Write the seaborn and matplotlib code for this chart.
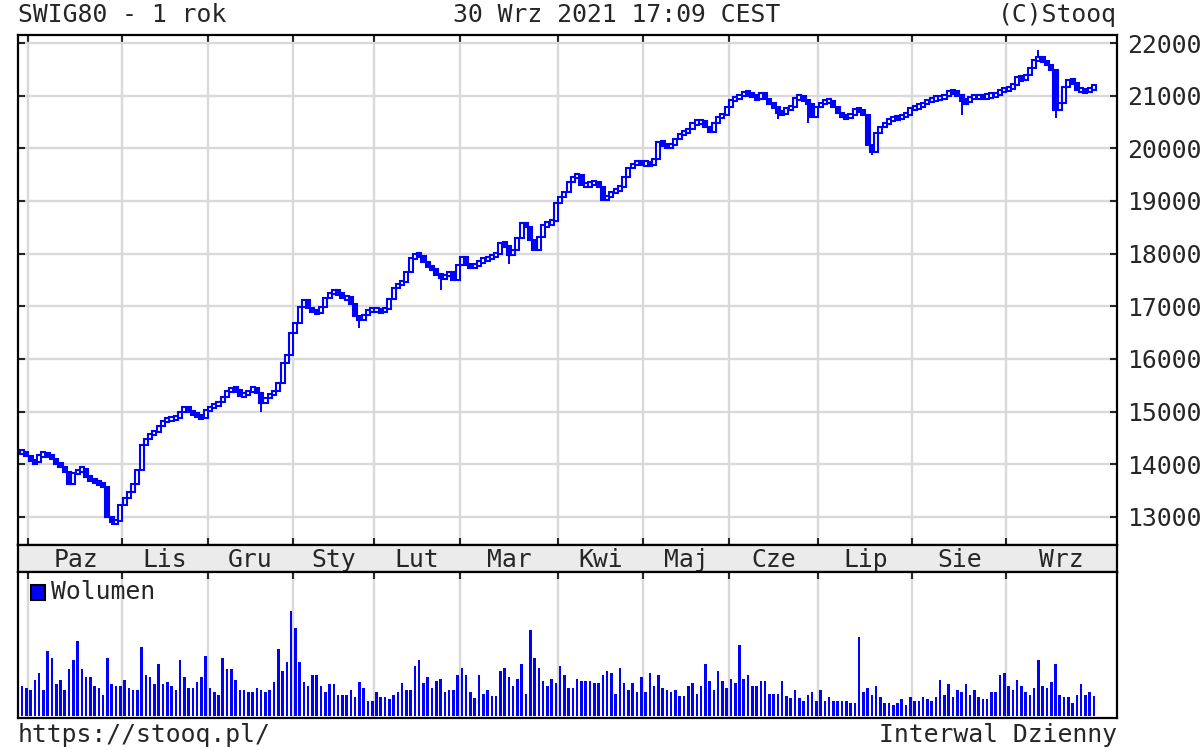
import numpy as np
import pandas as pd
import seaborn as sns
import matplotlib.pyplot as plt
from matplotlib.patches import Rectangle

# SWIG80, notowania dzienne 30.09.2020 - 30.09.2021 (kursy zamkniecia)
closes = [
    # paz (z 30 wrz)
    14230, 14150, 14060, 14040, 14180, 14190, 14170, 14100, 14010, 13950, 13850, 13620,
    13840, 13880, 13920, 13760, 13700, 13660, 13640, 13560, 13000, 12900, 12920,
    # lis
    13230, 13360, 13480, 13620, 13890, 14370, 14480, 14570, 14620, 14720, 14830, 14850,
    14880, 14880, 14990, 15090, 15000, 14950, 14920, 14880,
    # gru
    15030, 15080, 15120, 15185, 15280, 15390, 15430, 15410, 15300, 15320, 15400, 15440,
    15355, 15170, 15260, 15320, 15400, 15550, 15925, 16075,
    # sty
    16495, 16685, 16990, 17120, 16970, 16890, 16880, 16990, 17150, 17260, 17275, 17250,
    17160, 17170, 17050, 16820, 16740, 16835, 16930,
    # lut
    16930, 16930, 16900, 16950, 17140, 17350, 17420, 17460, 17650, 17920, 17975, 17960,
    17850, 17750, 17700, 17600, 17540, 17570, 17650, 17500,
    # mar
    17785, 17940, 17785, 17740, 17790, 17840, 17900, 17910, 17960, 17990, 18200, 18150,
    17975, 18070, 18300, 18580, 18500, 18260, 18070, 18320, 18545, 18560, 18620,
    # kwi
    18960, 19080, 19170, 19360, 19455, 19495, 19305, 19310, 19320, 19360, 19265, 19020,
    19080, 19170, 19210, 19265, 19455, 19630, 19685, 19745,
    # maj
    19700, 19720, 19685, 19800, 20120, 20065, 20010, 20065, 20180, 20270, 20300, 20360,
    20480, 20500, 20510, 20400, 20310, 20480, 20600, 20640,
    # cze
    20785, 20920, 20960, 21000, 21070, 21015, 21000, 20930, 21050, 20940, 20840, 20790,
    20670, 20660, 20760, 20785, 20955, 20975, 20920, 20840, 20600,
    # lip
    20785, 20860, 20900, 20900, 20785, 20670, 20600, 20590, 20640, 20740, 20730, 20640,
    20060, 19930, 20300, 20400, 20480, 20540, 20580, 20560, 20635, 20640,
    # sie
    20765, 20780, 20810, 20850, 20900, 20940, 20955, 20960, 20990, 21080, 21070, 21010,
    20900, 20880, 20970, 20975, 20980, 20975, 20990, 21015, 21020, 21110,
    # wrz
    21110, 21145, 21200, 21355, 21300, 21395, 21525, 21680, 21715, 21660, 21590, 21490,
    20730, 20860, 21165, 21300, 21240, 21110, 21110, 21080, 21145, 21165,
]

# wolumen (jednostki umowne, skala jak na wykresie)
volumes = [
    30, 28, 26, 36, 43, 26, 65, 58, 32, 36, 26, 47, 56, 75, 47, 39, 39, 30, 28, 21,
    58, 32, 30, 30, 36, 28, 26, 26, 69, 41, 39, 32, 52, 32, 34, 30, 26, 56, 39, 28,
    28, 34, 39, 60, 28, 24, 21, 58, 47, 47, 36, 26, 26, 24, 24, 28, 26, 24, 26, 34,
    67, 45, 54, 105, 88, 54, 34, 30, 41, 41, 30, 24, 32, 32, 21, 21, 21, 26, 19, 34,
    28, 15, 15, 24, 19, 19, 17, 21,
    24, 33, 26, 26, 50, 56, 33, 39, 28, 35, 37, 24, 26, 26, 41, 48, 41, 24, 18, 41,
    22, 26, 20, 20, 45, 48, 39, 30, 37, 52, 22, 86, 58, 48, 35, 30, 37, 33, 50, 41,
    28, 28, 37, 35, 35, 35, 33, 33, 41, 45, 43, 22, 48, 33, 26, 33, 24, 39, 24, 43,
    30, 41, 28, 26, 24, 26, 20, 20, 30, 33, 22, 30, 52, 35, 26, 45, 35, 28, 37, 33,
    71, 37, 41, 30, 30, 35, 35, 22, 22, 22, 35, 20, 18, 26, 18,
    15, 21, 24, 15, 26, 15, 19, 15, 15, 15, 15, 13, 13, 79, 24, 28, 21, 30, 19, 13,
    13, 11, 13, 17, 11, 19, 15, 15, 19, 17, 15, 19, 36, 21, 32, 19, 26, 24, 32, 21,
    26, 19, 17, 17, 24, 24, 41, 43, 30, 26, 36, 30, 24, 21, 28, 56, 30, 28, 34, 52,
    21, 19, 19, 13, 21, 32, 21, 24, 20,
]

# dlugie cienie swiec (nr sesji -> wartosc)
low_wicks = {21: 12850, 56: 15000, 79: 16590, 98: 17310, 114: 17800,
             177: 20550, 184: 20480, 199: 19870, 220: 20640, 242: 20580}
high_wicks = {238: 21870}

holidays = ['2020-11-11', '2020-12-24', '2020-12-25', '2020-12-31', '2021-01-01',
            '2021-01-06', '2021-04-02', '2021-04-05', '2021-05-03', '2021-06-03']
month_labels = ['Paz', 'Lis', 'Gru', 'Sty', 'Lut', 'Mar', 'Kwi', 'Maj', 'Cze', 'Lip', 'Sie', 'Wrz']
price_ticks = [13000, 14000, 15000, 16000, 17000, 18000, 19000, 20000, 21000, 22000]

dates = pd.bdate_range('2020-09-30', '2021-09-30')
dates = dates[~dates.isin(pd.to_datetime(holidays))]
assert len(dates) == len(closes) == len(volumes), (len(dates), len(closes), len(volumes))

df = pd.DataFrame({'date': dates, 'close': closes, 'volume': volumes})
df['day'] = np.arange(len(df))
df['open'] = df['close'].shift(1).fillna(df['close'])
df['high'] = df[['open', 'close']].max(axis=1)
df['low'] = df[['open', 'close']].min(axis=1)
for k, v in low_wicks.items():
    df.loc[k, 'low'] = v
for k, v in high_wicks.items():
    df.loc[k, 'high'] = v

# granice miesiecy
starts = df.groupby(df['date'].dt.to_period('M'))['day'].min().values[1:]
bounds = starts + 0.5
xmin, xmax = -0.95, 256.4
edges = list(bounds) + [xmax]
centers = [(edges[i] + edges[i + 1]) / 2 for i in range(len(bounds))]

sns.set_style('white')
plt.rcParams['font.family'] = ['DejaVu Sans Mono']
FS = 17.8
BLUE = '#0000ff'
GRID = '#d9d9d9'
MIN_BODY = 80  # zeby male swiece byly widoczne

fig = plt.figure(figsize=(12, 7.5), dpi=100)
L, W = 18 / 1200, 1099 / 1200
ax = fig.add_axes([L, 1 - 545 / 750, W, 510 / 750])
axm = fig.add_axes([L, 1 - 572 / 750, W, 27 / 750])
axv = fig.add_axes([L, 1 - 718 / 750, W, 146 / 750])

# swiece
up = df['close'] >= df['open']
ax.vlines(df['day'], df['low'], df['high'], color=BLUE, lw=1.4, zorder=2)
d = df[up]
h = np.maximum(d['close'] - d['open'], MIN_BODY)
ax.bar(d['day'], h, bottom=(d['open'] + d['close']) / 2 - h / 2, width=0.95,
       facecolor='white', edgecolor=BLUE, linewidth=1.5, zorder=3)
d = df[~up]
h = np.maximum(d['open'] - d['close'], MIN_BODY)
ax.bar(d['day'], h, bottom=(d['open'] + d['close']) / 2 - h / 2, width=0.95,
       facecolor=BLUE, edgecolor=BLUE, linewidth=1.5, zorder=4)

ax.set_xlim(xmin, xmax)
ax.set_ylim(12468, 22152)
ax.set_yticks(price_ticks)
ax.set_xticks(bounds)
ax.grid(True, color=GRID, lw=1.7, zorder=0)
ax.set_axisbelow(True)
ax.tick_params(direction='in', length=5, width=1.5, top=True, bottom=True, left=True,
               right=True, labelleft=False, labelright=True, labelbottom=False,
               labelsize=FS, pad=7)

# pasek z miesiacami
axm.set_facecolor('#ebebeb')
axm.set_xlim(xmin, xmax)
axm.set_ylim(0, 1)
axm.set_xticks([])
axm.set_yticks([])
for c, lab in zip(centers, month_labels):
    axm.text(c, 0.45, lab, ha='center', va='center', fontsize=FS)

# wolumen
sns.barplot(data=df, x='day', y='volume', native_scale=True, width=0.6, color=BLUE,
            saturation=1, errorbar=None, linewidth=0, ax=axv)
axv.set_xlim(xmin, xmax)
axv.set_ylim(-1.5, 144)
axv.set_xticks(bounds)
axv.set_yticks([])
axv.set_xlabel('')
axv.set_ylabel('')
axv.grid(True, axis='x', color=GRID, lw=1.7)
axv.set_axisbelow(True)
axv.tick_params(direction='in', length=5, width=1.5, top=True, bottom=False, labelbottom=False)

for a in (ax, axm, axv):
    for s in a.spines.values():
        s.set_visible(True)
        s.set_color('black')
        s.set_linewidth(1.6)

fig.add_artist(Rectangle((31 / 1200, 1 - 600 / 750), 14 / 1200, 15 / 750, facecolor=BLUE,
                         edgecolor='black', lw=1.5, transform=fig.transFigure))
fig.text(51 / 1200, 1 - 592 / 750, 'Wolumen', ha='left', va='center', fontsize=FS)

fig.text(18 / 1200, 1 - 15 / 750, 'SWIG80 - 1 rok', ha='left', va='center', fontsize=FS)
fig.text(617 / 1200, 1 - 15 / 750, '30 Wrz 2021 17:09 CEST', ha='center', va='center', fontsize=FS)
fig.text(1117 / 1200, 1 - 15 / 750, '(C)Stooq', ha='right', va='center', fontsize=FS)
fig.text(18 / 1200, 1 - 735 / 750, 'https://stooq.pl/', ha='left', va='center', fontsize=FS)
fig.text(1117 / 1200, 1 - 735 / 750, 'Interwal Dzienny', ha='right', va='center', fontsize=FS)

fig.savefig('out.png', dpi=100)
